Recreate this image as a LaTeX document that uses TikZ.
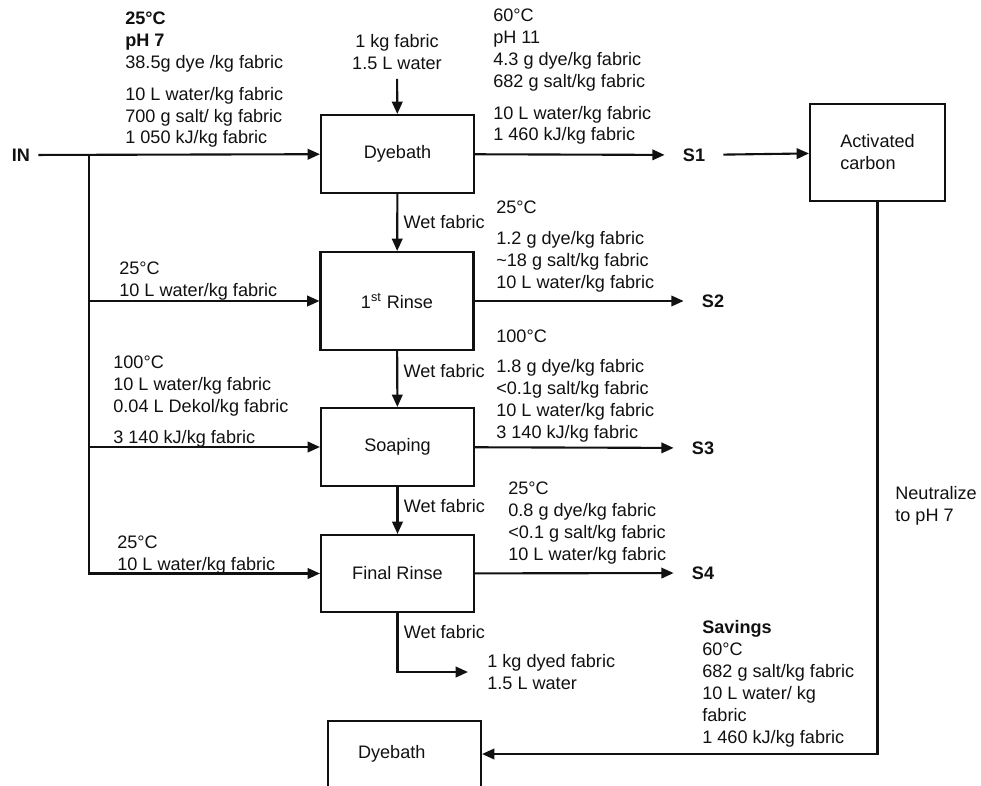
\documentclass[tikz,border=0pt]{standalone}
\usepackage{fontspec}
\setmainfont{Liberation Sans}
\usepackage{xcolor}
\definecolor{cInk}{HTML}{111111}
\usepackage{tikz}
\usetikzlibrary{positioning,arrows.meta}
\tikzset{
  every node/.style={font=\fontsize{10.3}{12.5}\selectfont,text=cInk},
  node-box/.style={draw=cInk,line width=1.2pt,minimum width=3.06cm,
    minimum height=1.56cm,align=center},
  node-text/.style={align=left,inner sep=0pt,anchor=north west},
  node-stream/.style={font=\fontsize{10.3}{12.5}\selectfont\bfseries,inner xsep=0.36cm},
  arrow/.style={-{Triangle[length=7pt,width=6pt]},line width=1.2pt,draw=cInk},
  % label beside the wet fabric lines
  wet/.style={right,inner xsep=3pt},
}

\begin{document}
\begin{tikzpicture}[x=0.02cm,y=-0.02cm]
  \useasboundingbox (0,0) rectangle (981,785);
  % process boxes
  \node[node-box] (dye)    at (397.5,154)   {Dyebath};
  \node[node-box,minimum height=1.96cm] (rinse1) at (397,301) {1\textsuperscript{st} Rinse};
  \node[node-box] (soap)   at (397.5,447)   {Soaping};
  \node[node-box,minimum height=1.54cm] (final) at (397.5,573.5) {Final Rinse};
  \node[node-box,minimum width=2.7cm,minimum height=1.94cm,align=left] (carbon)
    at (877.5,152.5) {Activated\\carbon};
  \node[node-box,minimum height=1.32cm,text width=1.86cm,inner xsep=0.6cm,align=left]
    (dye2) at (404.5,754) {Dyebath};
  % streams
  \node[font=\fontsize{10.3}{12.5}\selectfont\bfseries,inner xsep=0.16cm] (in) at (21,155) {IN};
  \coordinate (trunk) at (89,155);
  \node[node-stream] (s1) at (694,155) {S1};
  \node[node-stream] (s2) at (713,301) {S2};
  \node[node-stream] (s3) at (703,448) {S3};
  \node[node-stream] (s4) at (703,573) {S4};
  \node[align=center,inner xsep=0pt,inner ysep=0.17cm] (feed) at (397,52.5)
    {1 kg fabric\\1.5 L water};
  \node[align=left,anchor=west,inner xsep=0.38cm] (dyed) at (468,672)
    {1 kg dyed fabric\\1.5 L water};
  % stream data
  \node[node-text] (in-data) at (125,11.5)
    {\textbf{25°C}\\\textbf{pH 7}\\38.5g dye /kg fabric\\[5.5pt]10 L water/kg fabric\\
     700 g salt/ kg fabric\\1 050 kJ/kg fabric};
  \node[node-text] (s1-data) at (493,8.5)
    {60°C\\pH 11\\4.3 g dye/kg fabric\\682 g salt/kg fabric\\[5.5pt]
     10 L water/kg fabric\\1 460 kJ/kg fabric};
  \node[node-text] (rinse1-in) at (119,261.5) {25°C\\10 L water/kg fabric};
  \node[node-text] (s2-data) at (496,200.5)
    {25°C\\[5pt]1.2 g dye/kg fabric\\\textasciitilde18 g salt/kg fabric\\10 L water/kg fabric};
  \node[node-text] (soap-in) at (113,355.5)
    {100°C\\10 L water/kg fabric\\0.04 L Dekol/kg fabric\\[5pt]3 140 kJ/kg fabric};
  \node[node-text] (s3-data) at (496,329.5)
    {100°C\\[4.5pt]1.8 g dye/kg fabric\\<0.1g salt/kg fabric\\10 L water/kg fabric\\
     3 140 kJ/kg fabric};
  \node[node-text] (final-in) at (117,535.5) {25°C\\10 L water/kg fabric};
  \node[node-text] (s4-data) at (508,481.5)
    {25°C\\0.8 g dye/kg fabric\\<0.1 g salt/kg fabric\\10 L water/kg fabric};
  \node[node-text] (neutral) at (895,486.5) {Neutralize\\to pH 7};
  \node[node-text] (savings) at (702,620.5)
    {\textbf{Savings}\\60°C\\682 g salt/kg fabric\\10 L water/ kg\\fabric\\1 460 kJ/kg fabric};

  \draw[arrow] (in) -- (dye);
  \draw[arrow] (trunk) |- (rinse1);
  \draw[arrow] (trunk) |- (soap);
  \draw[arrow] (trunk) |- (final);
  \draw[arrow] (feed) -- (dye);
  \draw[arrow] (dye) -- node[wet] {Wet fabric} (rinse1);
  \draw[arrow] (rinse1) -- node[wet,pos=0.35] {Wet fabric} (soap);
  \draw[arrow] (soap) -- node[wet,pos=0.4] {Wet fabric} (final);
  \draw[arrow] (final) |- node[wet,pos=0.16] {Wet fabric} (dyed);
  \draw[arrow] (dye) -- (s1);
  \draw[arrow] (rinse1) -- (s2);
  \draw[arrow] (soap) -- (s3);
  \draw[arrow] (final) -- (s4);
  \draw[arrow] (s1) -- (carbon);
  \draw[arrow] (carbon) |- (dye2);
\end{tikzpicture}
\end{document}
